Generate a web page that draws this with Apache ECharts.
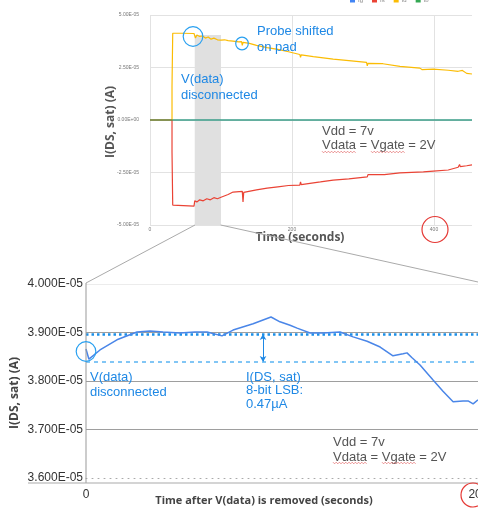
<!DOCTYPE html>
<html><head><meta charset="utf-8">
<script src="https://cdn.jsdelivr.net/npm/echarts@6/dist/echarts.min.js"></script>
<style>html,body{margin:0;padding:0;background:#fff}#c{width:478px;height:510px}</style>
</head><body><div id="c"></div>
<script>
// ---------- data ----------
const legendNames = ['Ig', 'Is', 'Id', 'Ib'];
const topXTicks = [0, 200, 400];
const bottomXTicks = [0, 20];

// drain current (orange), top chart
const idTime   = [0, 31, 31, 32, 32, 45, 62, 64, 66, 70, 74, 78, 82, 86, 90, 95, 100, 105, 110, 117, 125, 129, 130, 131, 140, 150, 165, 180, 195, 211, 212, 213, 230, 258, 280, 305, 306, 307, 328, 352, 380, 383, 384, 399, 420, 434, 440, 441, 446, 453.5];
const idValues = [0, 0, 1.6e-5, 1.6e-5, 4.13e-5, 4.13e-5, 4.12e-5, 3.9e-5, 4.05e-5, 3.98e-5, 4.0e-5, 3.9e-5, 3.95e-5, 3.85e-5, 3.9e-5, 3.82e-5, 3.8e-5, 3.82e-5, 3.78e-5, 3.76e-5, 3.72e-5, 3.73e-5, 3.55e-5, 3.7e-5, 3.65e-5, 3.55e-5, 3.45e-5, 3.36e-5, 3.25e-5, 3.12e-5, 2.98e-5, 3.1e-5, 3.02e-5, 2.9e-5, 2.83e-5, 2.74e-5, 2.58e-5, 2.7e-5, 2.68e-5, 2.55e-5, 2.47e-5, 2.4e-5, 2.46e-5, 2.42e-5, 2.37e-5, 2.32e-5, 2.36e-5, 2.28e-5, 2.22e-5, 2.19e-5];

// source current (red), top chart
const isTime   = [0, 31, 31, 32, 32, 62, 63, 66, 70, 75, 80, 85, 90, 95, 100, 110, 117, 130, 131, 132, 150, 165, 180, 195, 211, 212, 213, 240, 258, 280, 306, 307, 330, 352, 385, 386, 399, 420, 434, 436, 437, 446, 453.5];
const isValues = [0, 0, -1.52e-5, -1.52e-5, -4.05e-5, -4.1e-5, -3.85e-5, -3.9e-5, -3.8e-5, -3.85e-5, -3.75e-5, -3.8e-5, -3.7e-5, -3.75e-5, -3.68e-5, -3.55e-5, -3.43e-5, -3.4e-5, -3.9e-5, -3.45e-5, -3.33e-5, -3.24e-5, -3.18e-5, -3.12e-5, -3.1e-5, -2.95e-5, -3.08e-5, -2.95e-5, -2.86e-5, -2.8e-5, -2.71e-5, -2.6e-5, -2.6e-5, -2.52e-5, -2.47e-5, -2.38e-5, -2.43e-5, -2.38e-5, -2.25e-5, -2.12e-5, -2.22e-5, -2.18e-5, -2.14e-5];

// gate and bulk currents (flat at zero)
const flatTime = [0, 453.5];
const igValues = [0, 0];
const ibValues = [0, 0];

// highlighted window in the top chart
const bandTime = [63, 100];
const bandValues = [4.05e-5, -5e-5];

// zoomed curve, bottom chart
const zoomTime   = [0, 0.15, 0.72, 1.59, 2.62, 3.29, 3.96, 4.83, 5.6, 6.22, 6.99, 7.56, 8.59, 9.51, 9.97, 10.49, 10.85, 11.52, 12.19, 13.06, 13.73, 14.45, 15.12, 15.78, 16.3, 16.5, 16.76, 17.17, 17.84, 18.35, 18.87, 19.38, 19.64, 19.9, 20.15];
const zoomValues = [3.866e-5, 3.845e-5, 3.864e-5, 3.885e-5, 3.901e-5, 3.903e-5, 3.901e-5, 3.899e-5, 3.901e-5, 3.901e-5, 3.893e-5, 3.905e-5, 3.918e-5, 3.932e-5, 3.922e-5, 3.915e-5, 3.909e-5, 3.899e-5, 3.899e-5, 3.901e-5, 3.891e-5, 3.882e-5, 3.87e-5, 3.852e-5, 3.856e-5, 3.858e-5, 3.848e-5, 3.833e-5, 3.802e-5, 3.779e-5, 3.757e-5, 3.759e-5, 3.759e-5, 3.753e-5, 3.761e-5];

// LSB reference levels and arrow position
const lsbLevels = [3.897e-5, 3.839e-5];
const lsbSpan = [0, 20.15];
const lsbArrowTime = 9.1;

// ---------- helpers ----------
const pair = (ts, vs) => ts.map((t, i) => [t, vs[i]]);
function sci(v, d) {
  if (Math.abs(v) < 1e-15) return (0).toFixed(d) + 'E+00';
  const s = v.toExponential(d).split('e');
  const e = parseInt(s[1], 10);
  const n = Math.abs(e);
  return s[0] + 'E' + (e < 0 ? '-' : '+') + (n < 10 ? '0' : '') + n;
}
function squiggle(x0, x1, y) {
  const pts = []; let up = true;
  for (let x = x0; x <= x1; x += 1.6) { pts.push([x, y + (up ? -0.8 : 0.8)]); up = !up; }
  return { type: 'polyline', silent: true, z: 50, shape: { points: pts }, style: { stroke: '#e57373', lineWidth: 0.8, fill: null } };
}
const blue = '#1e88e5';
const annoFont = '13px "Liberation Sans", Arial, sans-serif';
function txt(x, y, text, fill, font) {
  return { type: 'text', silent: true, z: 50, x: x, y: y, style: { text: text, fill: fill, font: font || annoFont, textVerticalAlign: 'middle', verticalAlign: 'middle' } };
}
function circ(cx, cy, r, color) {
  return { type: 'circle', silent: true, z: 50, shape: { cx: cx, cy: cy, r: r }, style: { stroke: color, lineWidth: 1.2, fill: null } };
}
function seg(x1, y1, x2, y2, color, w) {
  return { type: 'line', silent: true, z: 50, shape: { x1: x1, y1: y1, x2: x2, y2: y2 }, style: { stroke: color, lineWidth: w || 1 } };
}

const chart = echarts.init(document.getElementById('c'));
const titleFont = { fontFamily: '"Open Sans", sans-serif', fontWeight: 'bold', color: '#555' };
const lineBase = { type: 'line', xAxisIndex: 0, yAxisIndex: 0, showSymbol: false, z: 5, lineStyle: { width: 1.2 } };

chart.setOption({
  animation: false,
  backgroundColor: '#fff',
  legend: {
    data: legendNames, left: 345, top: -8, itemWidth: 5, itemHeight: 5, itemGap: 9, icon: 'rect',
    textStyle: { fontSize: 6, color: '#888', padding: [0, 0, 0, -2] }
  },
  grid: [
    { left: 150, top: 15, width: 322, height: 210, containLabel: false, outerBoundsMode: 'none' },
    { left: 86, top: 284, width: 392, height: 194, containLabel: false, outerBoundsMode: 'none' }
  ],
  xAxis: [
    {
      gridIndex: 0, type: 'value', min: 0, max: 453.5, interval: 200,
      axisLine: { show: false }, axisTick: { show: false },
      axisLabel: { fontSize: 5, color: '#777', margin: 2, formatter: v => topXTicks.includes(v) ? String(v) : '' },
      splitLine: { show: true, lineStyle: { color: ['#e2e2e2', '#e2e2e2', '#e2e2e2', 'rgba(0,0,0,0)'], width: 1 } },
      name: 'Time (seconds)', nameLocation: 'middle', nameGap: 7, nameMoveOverlap: false,
      nameTextStyle: Object.assign({ fontSize: 12, padding: [0, 22, 0, 0] }, titleFont)
    },
    {
      gridIndex: 1, type: 'value', min: 0, max: 20.15, interval: 20,
      axisLine: { show: true, onZero: false, lineStyle: { color: '#aaa', width: 1, type: [1, 5] } },
      axisTick: { show: false },
      axisLabel: { fontSize: 12, color: '#333', margin: 11, fontFamily: '"Liberation Sans", Arial, sans-serif', formatter: v => bottomXTicks.includes(v) ? String(v) : '' },
      splitLine: { show: false },
      name: 'Time after V(data) is removed (seconds)', nameLocation: 'middle', nameGap: 17, nameMoveOverlap: false,
      nameTextStyle: Object.assign({ fontSize: 11, padding: [0, 36, 0, 0] }, titleFont, { color: '#444' })
    }
  ],
  yAxis: [
    {
      gridIndex: 0, type: 'value', min: -5e-5, max: 5e-5, interval: 2.5e-5,
      axisLine: { show: false }, axisTick: { show: false },
      axisLabel: { fontSize: 5, color: '#777', margin: 11, formatter: v => sci(v, 2) },
      splitLine: { show: true, lineStyle: { color: '#e2e2e2', width: 1 } },
      name: 'I(DS, sat) (A)', nameLocation: 'middle', nameGap: 33, nameMoveOverlap: false,
      nameTextStyle: Object.assign({ fontSize: 12, padding: [0, 4, 0, 0] }, titleFont)
    },
    {
      gridIndex: 1, type: 'value', min: 3.6e-5, max: 4.0e-5, interval: 1e-6,
      axisLine: { show: false }, axisTick: { show: false },
      axisLabel: { fontSize: 12, color: '#333', margin: 3, fontFamily: '"Liberation Sans", Arial, sans-serif', formatter: v => sci(v, 3) },
      splitLine: { show: true, lineStyle: { color: ['rgba(0,0,0,0)', '#9e9e9e', '#9e9e9e', '#9e9e9e', '#ececec'], width: 1 } },
      name: 'I(DS, sat) (A)', nameLocation: 'middle', nameGap: 65, nameMoveOverlap: false,
      nameTextStyle: Object.assign({ fontSize: 12, padding: [0, 24, 0, 0] }, titleFont, { color: '#444' })
    }
  ],
  series: [
    {
      type: 'line', name: 'band', xAxisIndex: 0, yAxisIndex: 0, data: [], silent: true, z: 1,
      markArea: { silent: true, z: 1, itemStyle: { color: '#e0e0e0' },
        data: [[{ xAxis: bandTime[0], yAxis: bandValues[0] }, { xAxis: bandTime[1], yAxis: bandValues[1] }]] }
    },
    Object.assign({}, lineBase, { name: 'Ig', data: pair(flatTime, igValues), color: '#4285f4' }),
    Object.assign({}, lineBase, { name: 'Id', data: pair(idTime, idValues), color: '#fbbc04' }),
    Object.assign({}, lineBase, { name: 'Is', data: pair(isTime, isValues), color: '#ea4335' }),
    Object.assign({}, lineBase, { name: 'Ib', data: pair(flatTime, ibValues), color: '#34a853' }),
    {
      type: 'line', name: 'zoom', xAxisIndex: 1, yAxisIndex: 1, data: pair(zoomTime, zoomValues), showSymbol: false,
      color: '#4a86e8', lineStyle: { width: 1.5 }, z: 5,
      markLine: {
        silent: true, symbol: ['none', 'none'], label: { show: false },
        lineStyle: { color: blue, width: 1, type: 'solid' },
        data: [
          [{ coord: [lsbArrowTime, lsbLevels[0]], symbol: 'arrow', symbolSize: [5, 6] },
           { coord: [lsbArrowTime, lsbLevels[1]], symbol: 'arrow', symbolSize: [5, 6] }],
          [{ coord: [lsbSpan[0], lsbLevels[0]], lineStyle: { color: '#1a8fe8', width: 2.5, type: [2.5, 3] } },
           { coord: [lsbSpan[1], lsbLevels[0]] }],
          [{ coord: [lsbSpan[0], lsbLevels[1]], lineStyle: { color: '#5ab4f2', width: 1.5, type: [4, 4] } },
           { coord: [lsbSpan[1], lsbLevels[1]] }]
        ]
      }
    }
  ],
  graphic: [
    // projection lines & frame
    seg(195, 225, 86, 283, '#aaa', 1),
    seg(220.7, 225, 478, 282, '#aaa', 1),
    seg(86, 283, 86, 483, '#999', 1),
    seg(28, 483, 478, 483, '#aaa', 1.2),
    // top annotations
    circ(193, 36.5, 9.8, '#29a0f0'),
    circ(242, 43.5, 6.3, '#29a0f0'),
    txt(257, 31, 'Probe shifted', blue),
    txt(257, 47, 'on pad', blue),
    txt(181, 79, 'V(data)', blue),
    txt(181, 95, 'disconnected', blue),
    txt(322, 131, 'Vdd = 7v', '#555'),
    txt(322, 145, 'Vdata = Vgate = 2V', '#555'),
    squiggle(322, 356, 152),
    squiggle(371, 405, 152),
    circ(435, 229.5, 13, '#e53935'),
    // bottom annotations
    circ(86, 351.5, 9.8, '#29a0f0'),
    txt(90, 377, 'V(data)', blue),
    txt(90, 392, 'disconnected', blue),
    txt(246, 377, 'I(DS, sat)', blue),
    txt(246, 390.5, '8-bit LSB:', blue),
    txt(246, 404, '0.47µA', blue),
    txt(333, 442, 'Vdd = 7v', '#555'),
    txt(333, 457, 'Vdata = Vgate = 2V', '#555'),
    squiggle(333, 367, 463),
    squiggle(382, 416, 463),
    circ(473, 495, 12, '#e53935')
  ]
});
</script></body></html>
